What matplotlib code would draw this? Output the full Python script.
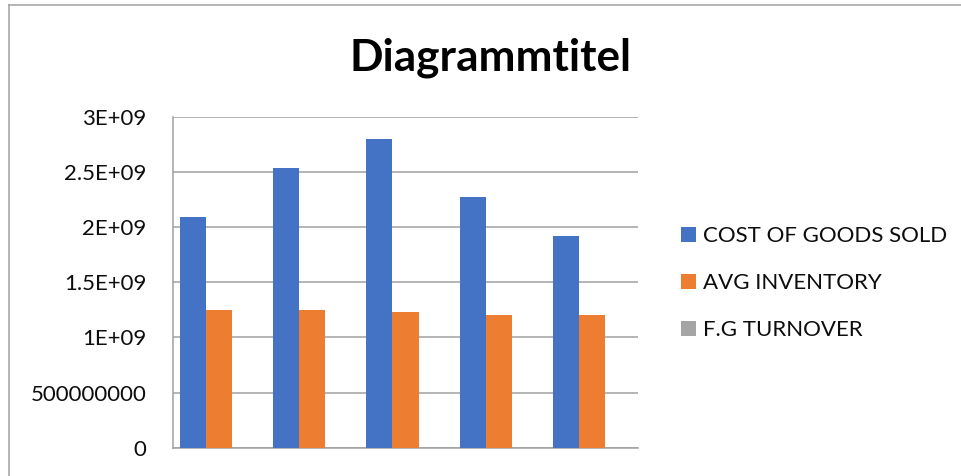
import matplotlib
matplotlib.use("Agg")
import matplotlib.pyplot as plt
import numpy as np
from matplotlib.lines import Line2D

# Series values per period
periods = ["1", "2", "3", "4", "5"]
cost_of_goods_sold = [2.094e9, 2.532e9, 2.800e9, 2.275e9, 1.916e9]
avg_inventory = [1.245e9, 1.245e9, 1.227e9, 1.203e9, 1.203e9]
fg_turnover = [1.68, 2.03, 2.28, 1.89, 1.59]

series_names = ["COST OF GOODS SOLD", "AVG INVENTORY", "F.G TURNOVER"]
series_colors = ["#4472C4", "#ED7D31", "#A5A5A5"]

ytick_values = [0, 5e8, 1e9, 1.5e9, 2e9, 2.5e9, 3e9]
ytick_labels = ["0", "500000000", "1E+09", "1.5E+09", "2E+09", "2.5E+09", "3E+09"]

plt.rcParams["font.family"] = ["Lato", "DejaVu Sans"]

W, H = 961, 476
fig = plt.figure(figsize=(W / 100, H / 100), dpi=100)
fig.patch.set_facecolor("white")

# Plot area in pixel coordinates
left, right, top, bottom = 172.7, 638.3, 116.7, 447.7
ax = fig.add_axes([left / W, 1 - bottom / H, (right - left) / W, (bottom - top) / H])

x = np.arange(len(periods))
w = 0.28
all_series = [cost_of_goods_sold, avg_inventory, fg_turnover]
handles = []
for i, (vals, name, col) in enumerate(zip(all_series, series_names, series_colors)):
    b = ax.bar(x + (i - 1) * w, vals, width=w, color=col, label=name, zorder=3)
    handles.append(b)

ax.set_xlim(-0.5, len(periods) - 0.5)
ax.set_ylim(0, 3e9)
ax.set_yticks(ytick_values)
ax.set_yticklabels(ytick_labels, fontsize=16, color="#0d0d0d")
ax.tick_params(axis="y", length=0, pad=19)
ax.set_xticks([])

grid_col = "#a0a0a0"
ax.yaxis.grid(True, color=grid_col, linewidth=1.1)
ax.set_axisbelow(True)
for s in ["top", "right"]:
    ax.spines[s].set_visible(False)
for s in ["left", "bottom"]:
    ax.spines[s].set_color(grid_col)
    ax.spines[s].set_linewidth(1.1)

# Title
fig.text(490.5 / W, 1 - 70 / H, "Diagrammtitel", ha="center", va="baseline",
         fontsize=31.8, fontweight="bold", color="black")

# Legend
leg = fig.legend(handles=handles, labels=series_names, loc="center left",
                 bbox_to_anchor=(681 / W, 1 - 283 / H), frameon=False,
                 fontsize=16, handlelength=0.68, handleheight=0.65,
                 handletextpad=0.32, labelspacing=1.22, borderpad=0, borderaxespad=0)
for t in leg.get_texts():
    t.set_color("#0d0d0d")

# Chart border (top and left edges visible)
fig.add_artist(Line2D([8.5 / W, 1], [1 - 4.5 / H, 1 - 4.5 / H],
                      transform=fig.transFigure, color=grid_col, linewidth=1.1))
fig.add_artist(Line2D([8.5 / W, 8.5 / W], [0, 1 - 4.5 / H],
                      transform=fig.transFigure, color=grid_col, linewidth=1.1))

fig.savefig("out.png", dpi=100)
